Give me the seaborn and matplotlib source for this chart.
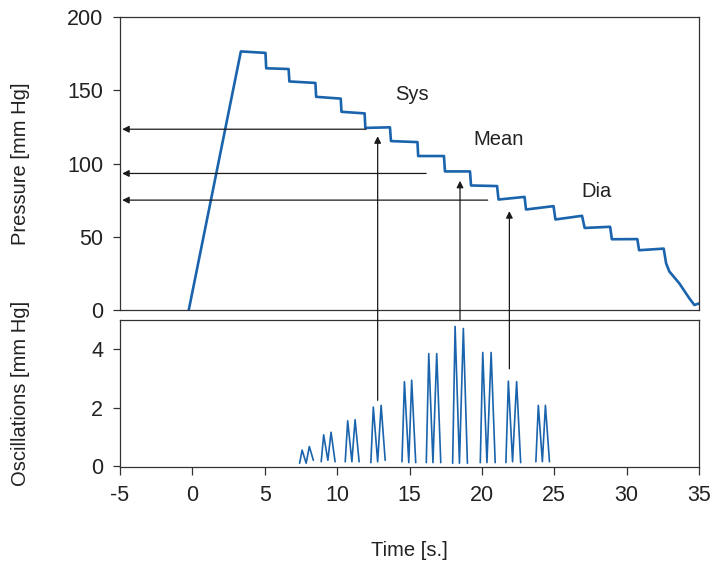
import matplotlib
matplotlib.use("Agg")
import matplotlib.pyplot as plt
from matplotlib.patches import ConnectionPatch
import seaborn as sns
import pandas as pd

# ---------------- data ----------------
pressure_t = [-0.25, 3.35, 5.05, 5.10, 6.65, 6.70, 8.50, 8.55, 10.25, 10.30,
              11.90, 11.95, 13.65, 13.72, 15.55, 15.60, 17.38, 17.45, 19.18, 19.25,
              21.05, 21.15, 22.95, 23.05, 24.95, 25.08, 26.92, 27.10, 28.86, 28.98,
              30.74, 30.86, 32.56, 32.73, 32.95, 33.64, 34.33, 34.68, 35.00]
pressure_v = [0.0, 176.5, 175.5, 165.0, 164.5, 156.0, 155.0, 145.5, 144.3, 135.3,
              134.2, 124.3, 124.7, 115.3, 114.6, 105.1, 105.1, 94.6, 94.6, 85.0,
              84.6, 75.4, 77.2, 68.6, 70.9, 61.8, 64.3, 56.0, 56.8, 48.3,
              48.4, 40.8, 41.9, 31.8, 26.3, 18.2, 8.0, 3.4, 4.5]

osc_burst = [1]*5 + [2]*5 + [3]*5 + [4]*5 + [5]*5 + [6]*5 + [7]*5 + [8]*5 + [9]*5 + [10]*5
osc_t = [7.41, 7.58, 7.86, 8.08, 8.36,
         8.90, 9.07, 9.36, 9.58, 9.86,
         10.56, 10.73, 11.02, 11.24, 11.52,
         12.33, 12.50, 12.80, 13.04, 13.32,
         14.48, 14.65, 14.95, 15.15, 15.43,
         16.16, 16.33, 16.62, 16.88, 17.16,
         17.98, 18.15, 18.45, 18.72, 19.00,
         19.89, 20.06, 20.35, 20.64, 20.92,
         21.66, 21.83, 22.12, 22.40, 22.68,
         23.73, 23.90, 24.18, 24.39, 24.67]
osc_v = [0.10, 0.55, 0.10, 0.67, 0.20,
         0.15, 1.07, 0.20, 1.16, 0.15,
         0.15, 1.55, 0.15, 1.59, 0.15,
         0.12, 2.02, 0.15, 2.08, 0.20,
         0.15, 2.89, 0.12, 2.94, 0.12,
         0.12, 3.85, 0.12, 3.85, 0.12,
         0.10, 4.78, 0.10, 4.71, 0.10,
         0.12, 3.89, 0.12, 3.89, 0.12,
         0.12, 2.91, 0.15, 2.89, 0.12,
         0.15, 2.08, 0.15, 2.08, 0.15]

labels = ["Sys", "Mean", "Dia"]
label_x = [15.2, 21.14, 27.9]
label_y = [143.2, 112.5, 77.2]
level_y = [123.4, 93.2, 75.0]          # horizontal arrow levels
level_end_x = [12.0, 16.15, 20.4]      # right ends of horizontal arrows
vert_x = [12.8, 18.49, 21.9]           # vertical arrow positions
vert_from = [2.25, 5.0, 3.33]          # start on oscillation axis
vert_to = [118.6, 88.2, 67.5]          # tip on pressure axis

p_ticks = [0, 50, 100, 150, 200]
o_ticks = [0, 2, 4]
x_ticks = [-5, 0, 5, 10, 15, 20, 25, 30, 35]

# ---------------- style ----------------
sns.set_style("ticks")
plt.rcParams["font.family"] = ["Liberation Sans", "DejaVu Sans"]
TXT = "#222222"
BLUE = "#1a63ad"
plt.rcParams.update({
    "axes.edgecolor": "#333333",
    "axes.linewidth": 0.9,
    "xtick.color": "#333333",
    "ytick.color": "#333333",
    "xtick.labelcolor": TXT,
    "ytick.labelcolor": TXT,
    "xtick.major.size": 6,
    "ytick.major.size": 5,
    "xtick.major.width": 0.9,
    "ytick.major.width": 0.9,
})

fig = plt.figure(figsize=(7.11, 5.63), dpi=100)
W, H = 711, 563
ax_top = fig.add_axes([120 / W, (H - 310) / H, 579 / W, 293 / H])
ax_bot = fig.add_axes([120 / W, (H - 467) / H, 579 / W, 147 / H])

p_df = pd.DataFrame({"t": pressure_t, "p": pressure_v})
o_df = pd.DataFrame({"t": osc_t, "v": osc_v, "burst": osc_burst})

sns.lineplot(data=p_df, x="t", y="p", sort=False, estimator=None,
             color=BLUE, lw=1.9, ax=ax_top)
sns.lineplot(data=o_df, x="t", y="v", units="burst", sort=False, estimator=None,
             color=BLUE, lw=1.2, ax=ax_bot)

for ax in (ax_top, ax_bot):
    ax.set_xlim(-5, 35)
    for s in ax.spines.values():
        s.set_visible(True)

ax_top.set_ylim(0, 200)
ax_top.set_yticks(p_ticks)
ax_top.set_xticks([])
ax_top.set_xlabel("")
ax_bot.set_ylim(-0.03, 5.0)
ax_bot.set_yticks(o_ticks)
ax_bot.set_xticks(x_ticks)
ax_bot.set_xticklabels([str(v) for v in x_ticks])

FS = 14.5
TFS = 15.5
ax_top.tick_params(axis="y", labelsize=TFS, pad=7)
ax_bot.tick_params(axis="y", labelsize=TFS, pad=7)
ax_bot.tick_params(axis="x", labelsize=TFS, pad=7)

ax_top.set_ylabel("Pressure [mm Hg]", fontsize=FS, color=TXT)
ax_bot.set_ylabel("Oscillations [mm Hg]", fontsize=FS, color=TXT)
ax_top.yaxis.set_label_coords(-0.155, 0.5)
ax_bot.yaxis.set_label_coords(-0.155, 0.5)
ax_bot.set_xlabel("Time [s.]", fontsize=FS, color=TXT)
ax_bot.xaxis.set_label_coords(0.5, -0.5)

# labels
for lab, lx, ly in zip(labels, label_x, label_y):
    ax_top.text(lx, ly, lab, fontsize=FS, color=TXT, ha="center", va="baseline")

# horizontal arrows
for ly, ex in zip(level_y, level_end_x):
    ax_top.annotate("", xy=(-4.85, ly), xytext=(ex, ly),
                    arrowprops=dict(arrowstyle="-|>", lw=0.9, color="#1a1a1a",
                                    mutation_scale=10, shrinkA=0, shrinkB=0))

# vertical arrows across both axes
for vx, y0, y1 in zip(vert_x, vert_from, vert_to):
    cp = ConnectionPatch(xyA=(vx, y0), coordsA=ax_bot.transData,
                         xyB=(vx, y1), coordsB=ax_top.transData,
                         arrowstyle="-|>", lw=0.9, color="#1a1a1a",
                         mutation_scale=10, shrinkA=0, shrinkB=0)
    fig.add_artist(cp)

fig.savefig("out.png", dpi=100)
